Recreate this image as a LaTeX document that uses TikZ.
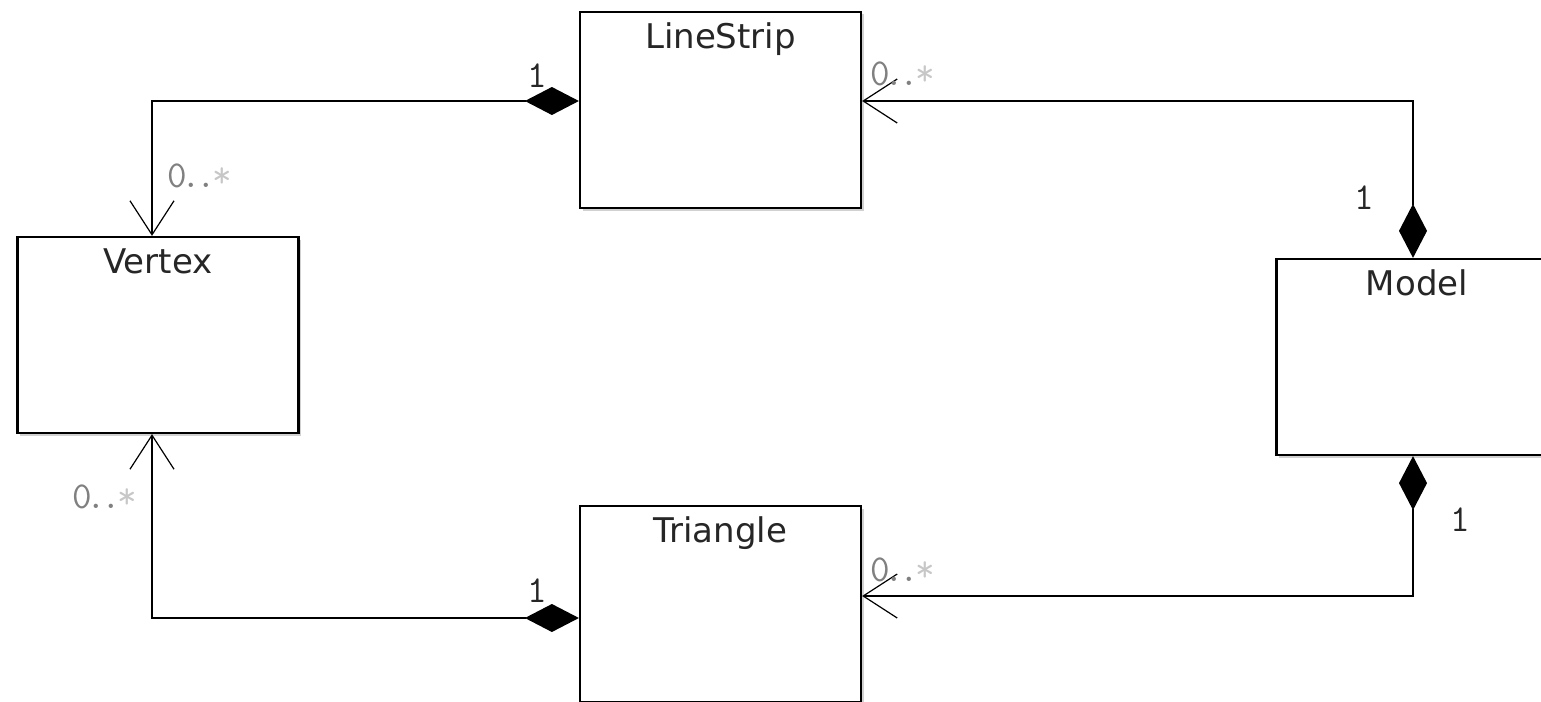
\documentclass[tikz,border=0pt]{standalone}
\usepackage{fontspec}
\newfontfamily\classfont{DejaVu Sans}
\usetikzlibrary{arrows.meta,shadows}
% multiplicity "0..*" with a tighter set of dots and a faint star
\newcommand{\manymark}{0\kern-5pt.\kern-5pt.\kern-3pt{\color{black!22}*}}
\begin{document}
\begin{tikzpicture}[x=1pt,y=-1pt,
  classbox/.style={draw=black, line width=2.2pt, fill=white,
    minimum width=281pt, minimum height=196pt, inner sep=0pt,
    drop shadow={shadow xshift=2.5pt,shadow yshift=-2.5pt,fill=black!40,opacity=0.45}},
  title/.style={anchor=base, yshift=-38pt, inner sep=0pt,
    font=\classfont\fontsize{34}{40}\selectfont, text=black!85},
  comp/.style={line width=1.4pt, draw=black,
    {Diamond[length=54pt,width=28pt]}-{Straight Barb[length=34pt,width=44pt,line width=1.2pt]}},
  mult/.style={inner sep=0pt, font=\ttfamily\fontsize{38}{44}\selectfont, text=black!85},
  many/.style={inner sep=0pt, font=\ttfamily\fontsize{38}{44}\selectfont, text=black!50}
]
\useasboundingbox (0,0) rectangle (1541,701);
\fill[white] (0,0) rectangle (1541,701);

% classes
\node[classbox, label={[title]north:LineStrip}] (ls)  at (720.5,110) {};
\node[classbox, label={[title]north:Vertex}]    (vx)  at (158,335)   {};
\node[classbox, label={[title]north:Model}]     (md)  at (1417,357)  {};
\node[classbox, label={[title]north:Triangle}]  (tri) at (720.5,604) {};

% compositions: diamond at the owner, open arrow at the part
\draw[comp] ([yshift=9pt]ls.west)   -| ([xshift=-6pt]vx.north);
\draw[comp] ([yshift=-14pt]tri.west) -| ([xshift=-6pt]vx.south);
\draw[comp] ([xshift=-4pt]md.north) |- ([yshift=9pt]ls.east);
\draw[comp] ([xshift=-4pt]md.south) |- ([yshift=8pt]tri.east);

% multiplicities
\node[mult, anchor=base] (m1) at (537,87)   {1};
\node[many, anchor=base west] (m2) at (167,187) {\manymark};
\node[mult, anchor=base] (m3) at (537,602)  {1};
\node[many, anchor=base west] (m4) at (72,508)  {\manymark};
\node[mult, anchor=base] (m5) at (1364,209) {1};
\node[many, anchor=base west] (m6) at (870,85)  {\manymark};
\node[mult, anchor=base] (m7) at (1460,531) {1};
\node[many, anchor=base west] (m8) at (870,581) {\manymark};
\end{tikzpicture}
\end{document}
